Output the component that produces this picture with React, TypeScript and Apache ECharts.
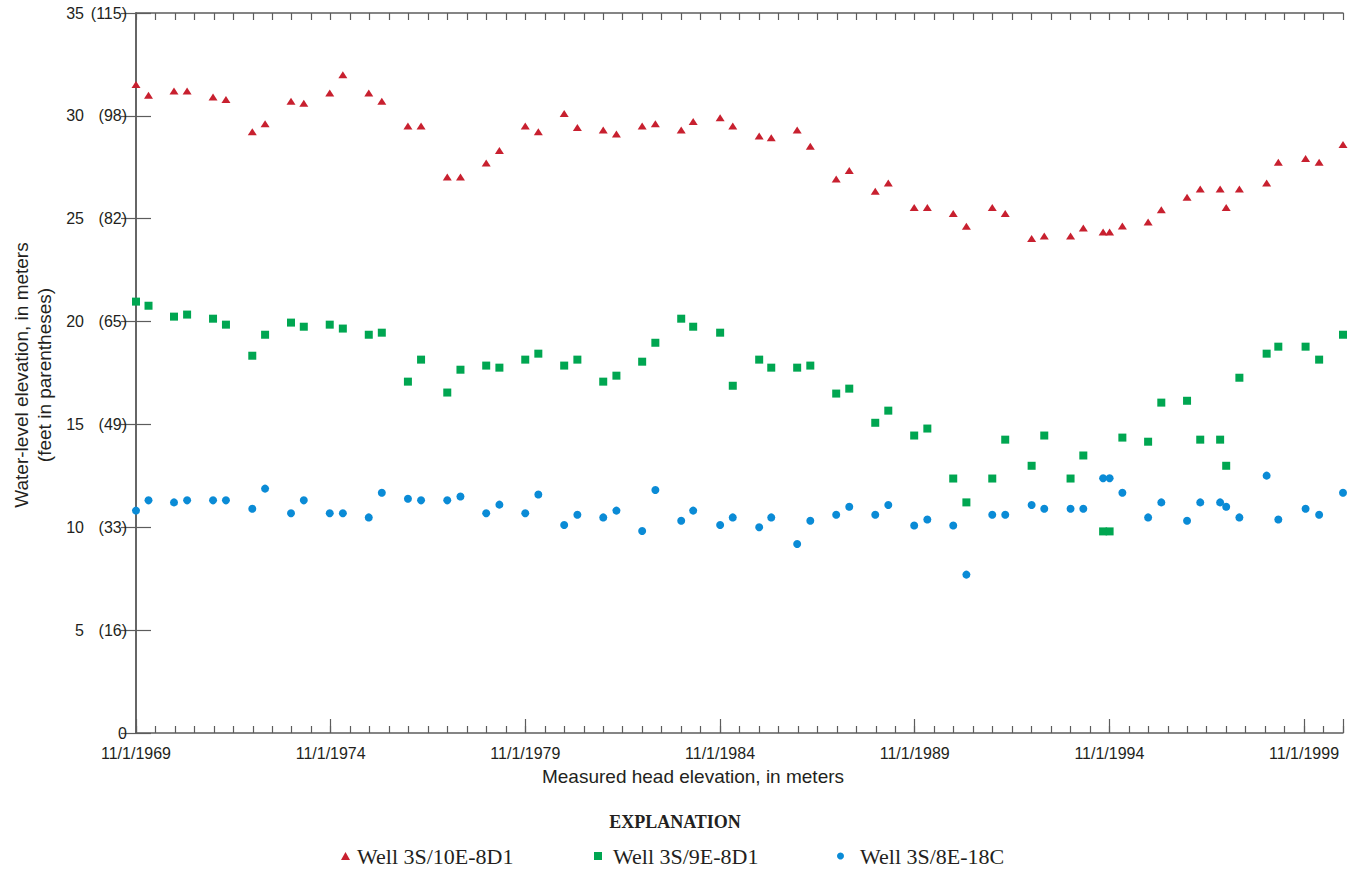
import React, { useEffect, useRef } from "react";
import * as echarts from "echarts";

const dates = [
  "1969-11-01", "1970-02-25", "1970-10-23", "1971-02-22", "1971-10-24", "1972-02-22", "1972-10-27", "1973-02-23", "1973-10-25", "1974-02-21",
  "1974-10-23", "1975-02-22", "1975-10-24", "1976-02-23", "1976-10-26", "1977-02-25", "1977-10-30", "1978-03-01", "1978-10-30", "1979-03-01",
  "1979-10-31", "1980-03-01", "1980-10-31", "1981-03-02", "1981-11-01", "1982-03-03", "1982-11-01", "1983-03-03", "1983-11-02", "1984-02-22",
  "1984-11-02", "1985-02-27", "1985-11-03", "1986-02-23", "1986-10-25", "1987-02-24", "1987-10-26", "1988-02-25", "1988-10-27", "1989-02-25",
  "1989-10-27", "1990-02-26", "1990-10-28", "1991-02-27", "1991-10-29", "1992-02-27", "1992-11-02", "1993-02-27", "1993-11-02", "1994-02-28",
  "1994-09-03", "1994-11-03", "1995-03-01", "1995-10-30", "1996-03-01", "1996-10-30", "1997-03-01", "1997-09-05", "1997-11-01", "1998-03-03",
  "1998-11-15", "1999-03-03", "1999-11-15", "2000-03-21", "2000-11-01",
];

const well10E = [
  31.52, 31.0, 31.21, 31.21, 30.92, 30.8, 29.23, 29.62, 30.71, 30.61,
  31.11, 32.0, 31.11, 30.71, 29.51, 29.51, 27.03, 27.03, 27.71, 28.31,
  29.51, 29.23, 30.12, 29.43, 29.31, 29.12, 29.51, 29.62, 29.31, 29.72,
  29.91, 29.51, 29.02, 28.93, 29.31, 28.52, 26.93, 27.34, 26.33, 26.74,
  25.54, 25.54, 25.25, 24.63, 25.54, 25.25, 24.04, 24.16, 24.16, 24.55,
  24.36, 24.36, 24.65, 24.84, 25.44, 26.04, 26.45, 26.45, 25.54, 26.45,
  26.74, 27.74, 27.93, 27.74, 28.61,
];

const well9E = [
  20.97, 20.77, 20.24, 20.34, 20.14, 19.85, 18.34, 19.36, 19.95, 19.75,
  19.85, 19.66, 19.36, 19.46, 17.08, 18.15, 16.55, 17.66, 17.86, 17.76,
  18.15, 18.44, 17.86, 18.15, 17.08, 17.37, 18.05, 18.97, 20.14, 19.75,
  19.46, 16.88, 18.15, 17.76, 17.76, 17.86, 16.5, 16.74, 15.08, 15.67,
  14.46, 14.8, 12.37, 11.21, 12.37, 14.26, 12.99, 14.46, 12.37, 13.49,
  9.8, 9.8, 14.36, 14.16, 16.06, 16.15, 14.26, 14.26, 12.99, 17.27,
  18.44, 18.78, 18.78, 18.15, 19.36,
];

const well8E = [
  10.81, 11.31, 11.21, 11.31, 11.31, 11.31, 10.9, 11.88, 10.68, 11.31,
  10.68, 10.68, 10.48, 11.68, 11.39, 11.31, 11.31, 11.5, 10.68, 11.1,
  10.68, 11.59, 10.11, 10.61, 10.48, 10.81, 9.82, 11.81, 10.32, 10.81,
  10.11, 10.48, 10.0, 10.48, 9.19, 10.32, 10.61, 11.0, 10.61, 11.08,
  10.09, 10.38, 10.09, 7.7, 10.61, 10.61, 11.08, 10.9, 10.9, 10.9,
  12.38, 12.38, 11.68, 10.48, 11.21, 10.32, 11.21, 11.21, 11.0, 10.48,
  12.51, 10.38, 10.9, 10.61, 11.68,
];

const seriesNames = ["Well 3S/10E-8D1", "Well 3S/9E-8D1", "Well 3S/8E-18C"];
const yTickMeters = [0, 5, 10, 15, 20, 25, 30, 35];
const yTickFeet = ["", "(16)", "(33)", "(49)", "(65)", "(82)", "(98)", "(115)"];
const xStart = "1969-11-01";
const xEnd = "2000-11-01";

const FONT = "'Liberation Sans', Arial, sans-serif";
const SERIF = "'Liberation Serif', 'DejaVu Serif', serif";
const AXIS_COLOR = "#5c5c5c";
const TEXT_COLOR = "#231f20";

function monthsSince(s: string): number {
  const [y, m, d] = s.split("-").map(Number);
  const [y0, m0] = xStart.split("-").map(Number);
  const dim = new Date(y, m, 0).getDate();
  return (y - y0) * 12 + (m - m0) + (d - 1) / dim;
}

function toPoints(values: number[]) {
  return dates.map((d, i) => [monthsSince(d), values[i]]);
}

export default function App() {
  const ref = useRef<HTMLDivElement>(null);

  useEffect(() => {
    if (!ref.current) return;
    const chart = echarts.init(ref.current, undefined, { renderer: "svg" });
    const xMax = monthsSince(xEnd);
    const startYear = Number(xStart.slice(0, 4));

    const baseX = {
      type: "value",
      min: 0,
      max: xMax,
      splitLine: { show: false },
      axisLine: { show: true, lineStyle: { color: AXIS_COLOR, width: 1.5 } },
    };

    const legendText = (padLeft: number) => ({
      fontFamily: SERIF,
      fontSize: 22,
      color: TEXT_COLOR,
      padding: [0, 0, 0, padLeft],
    });

    const option: any = {
      animation: false,
      backgroundColor: "#ffffff",
      grid: { left: 136, right: 8, top: 13, bottom: 136, containLabel: false },
      xAxis: [
        {
          ...baseX,
          position: "bottom",
          interval: 6,
          axisTick: { show: true, inside: true, length: 7, lineStyle: { color: AXIS_COLOR, width: 1.2 } },
          axisLabel: {
            show: true,
            margin: 12,
            fontFamily: FONT,
            fontSize: 16,
            color: TEXT_COLOR,
            showMinLabel: true,
            showMaxLabel: true,
            formatter: (v: number) =>
              Math.round(v) % 60 === 0 && v < xMax - 1 ? `11/1/${startYear + Math.round(v) / 12}` : "",
          },
        },
        {
          ...baseX,
          position: "bottom",
          interval: 60,
          axisLine: { show: false },
          axisTick: { show: true, inside: true, length: 14, lineStyle: { color: AXIS_COLOR, width: 1.2 } },
          axisLabel: { show: false },
        },
        {
          ...baseX,
          position: "top",
          interval: 6,
          axisTick: { show: true, inside: true, length: 7, lineStyle: { color: AXIS_COLOR, width: 1.2 } },
          axisLabel: { show: false },
        },
      ],
      yAxis: [
        {
          type: "value",
          position: "left",
          min: 0,
          max: 35,
          interval: 5,
          splitLine: { show: false },
          axisLine: { show: true, lineStyle: { color: AXIS_COLOR, width: 1.5 } },
          axisTick: { show: true, inside: true, length: 15, lineStyle: { color: AXIS_COLOR, width: 1.2 } },
          axisLabel: {
            margin: 9,
            fontFamily: FONT,
            fontSize: 16,
            color: TEXT_COLOR,
            formatter: (v: number) => {
              const i = yTickMeters.indexOf(v);
              if (i <= 0) return `{z|${v}}`;
              return `{m|${v}}{f|${yTickFeet[i]}}`;
            },
            rich: {
              m: { width: 30, align: "right", fontFamily: FONT, fontSize: 16, color: TEXT_COLOR },
              f: { width: 43, align: "right", fontFamily: FONT, fontSize: 16, color: TEXT_COLOR },
              z: { align: "right", fontFamily: FONT, fontSize: 16, color: TEXT_COLOR },
            },
          },
        },
        {
          type: "value",
          position: "right",
          min: 0,
          max: 35,
          interval: 5,
          splitLine: { show: false },
          axisLine: { show: true, lineStyle: { color: AXIS_COLOR, width: 1.5 } },
          axisTick: { show: true, inside: true, length: 15, lineStyle: { color: AXIS_COLOR, width: 1.2 } },
          axisLabel: { show: false },
        },
      ],
      legend: [
        {
          data: [{ name: seriesNames[0], icon: "triangle" }],
          left: 341,
          top: 845,
          padding: 0,
          itemWidth: 9,
          itemHeight: 8,
          textStyle: legendText(2),
          selectedMode: false,
        },
        {
          data: [{ name: seriesNames[1], icon: "rect" }],
          left: 594,
          top: 845,
          padding: 0,
          itemWidth: 8,
          itemHeight: 8,
          textStyle: legendText(6),
          selectedMode: false,
        },
        {
          data: [{ name: seriesNames[2], icon: "circle" }],
          left: 837,
          top: 845,
          padding: 0,
          itemWidth: 7,
          itemHeight: 8,
          textStyle: legendText(11),
          selectedMode: false,
        },
      ],
      graphic: [
        {
          type: "text",
          x: 693,
          y: 776,
          style: {
            text: "Measured head elevation, in meters",
            fontFamily: FONT,
            fontSize: 19,
            fill: TEXT_COLOR,
            align: "center",
            verticalAlign: "middle",
          },
        },
        {
          type: "text",
          x: 33,
          y: 375,
          rotation: Math.PI / 2,
          style: {
            text: "Water-level elevation, in meters\n(feet in parentheses)",
            fontFamily: FONT,
            fontSize: 19,
            lineHeight: 23,
            fill: TEXT_COLOR,
            align: "center",
            verticalAlign: "middle",
          },
        },
        {
          type: "text",
          x: 675,
          y: 822,
          style: {
            text: "EXPLANATION",
            fontFamily: SERIF,
            fontSize: 18,
            fontWeight: "bold",
            fill: TEXT_COLOR,
            align: "center",
            verticalAlign: "middle",
          },
        },
      ],
      series: [
        {
          name: seriesNames[0],
          type: "scatter",
          xAxisIndex: 0,
          yAxisIndex: 0,
          symbol: "triangle",
          symbolSize: [9, 7],
          itemStyle: { color: "#c8202f", opacity: 1 },
          data: toPoints(well10E),
          clip: false,
        },
        {
          name: seriesNames[1],
          type: "scatter",
          xAxisIndex: 0,
          yAxisIndex: 0,
          symbol: "rect",
          symbolSize: 8,
          itemStyle: { color: "#00a651", opacity: 1 },
          data: toPoints(well9E),
          clip: false,
        },
        {
          name: seriesNames[2],
          type: "scatter",
          xAxisIndex: 0,
          yAxisIndex: 0,
          symbol: "circle",
          symbolSize: 8,
          itemStyle: { color: "#0a8bd6", opacity: 1 },
          data: toPoints(well8E),
          clip: false,
        },
      ],
    };

    chart.setOption(option);
    return () => chart.dispose();
  }, []);

  return (
    <div
      ref={ref}
      style={{ position: "fixed", left: 0, top: 0, width: 1351, height: 869, background: "#fff" }}
    />
  );
}
